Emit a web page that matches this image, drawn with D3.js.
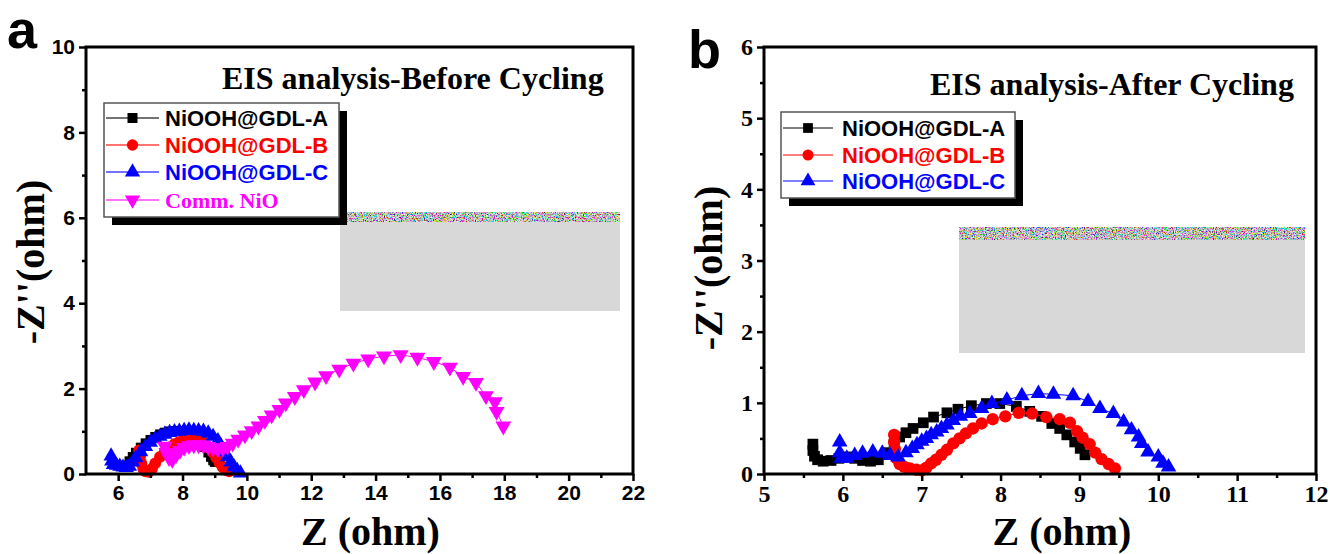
<!DOCTYPE html>
<meta charset="utf-8">
<style>
  body { margin: 0; background: #fff; }
  text { fill: #000; }
</style>
<svg width="1330" height="554"></svg>
<script src="https://d3js.org/d3.v7.min.js"></script>
<script>

var svg = d3.select("svg");

// series names and colours
var names = ["NiOOH@GDL-A", "NiOOH@GDL-B", "NiOOH@GDL-C", "Comm. NiO"];
var colors = ["#000000", "#ff0000", "#0000ff", "#ff00ff"];

// panel a : before cycling, [Z', -Z'']
var beforeA = [[6.25,0.2],[6.35,0.3],[6.45,0.4],[6.55,0.5],[6.7,0.62],[6.85,0.72],[7.0,0.8],[7.15,0.87],[7.3,0.93],[7.45,0.97],[7.6,1.0],[7.75,1.01],[7.9,1.01],[8.05,1.0],[8.2,0.97],[8.35,0.92],[8.5,0.84],[8.6,0.75],[8.7,0.63],[8.8,0.5],[8.88,0.4],[8.95,0.32],[9.0,0.28]];
var beforeB = [[6.65,0.55],[6.68,0.4],[6.72,0.25],[6.78,0.12],[6.85,0.06],[6.95,0.05],[7.05,0.12],[7.15,0.25],[7.3,0.4],[7.45,0.52],[7.6,0.62],[7.75,0.7],[7.9,0.75],[8.05,0.78],[8.2,0.8],[8.35,0.8],[8.5,0.78],[8.65,0.72],[8.8,0.62],[8.95,0.5],[9.05,0.38],[9.15,0.26],[9.25,0.16],[9.35,0.09],[9.45,0.06]];
var beforeC = [[5.78,0.42],[5.8,0.3],[5.85,0.22],[5.95,0.2],[6.05,0.18],[6.15,0.16],[6.25,0.15],[6.35,0.18],[6.45,0.28],[6.55,0.38],[6.7,0.52],[6.85,0.64],[7.0,0.74],[7.15,0.82],[7.3,0.88],[7.45,0.93],[7.6,0.97],[7.75,0.99],[7.9,1.0],[8.05,1.02],[8.2,1.03],[8.35,1.02],[8.5,1.01],[8.65,1.0],[8.8,0.96],[8.95,0.88],[9.1,0.78],[9.2,0.65],[9.3,0.52],[9.4,0.4],[9.5,0.28],[9.6,0.17],[9.7,0.08],[9.8,0.02]];
var beforeNiO = [[7.45,0.65],[7.5,0.5],[7.58,0.38],[7.68,0.34],[7.8,0.45],[7.92,0.55],[8.05,0.62],[8.2,0.66],[8.35,0.68],[8.5,0.68],[8.65,0.67],[8.8,0.64],[8.95,0.61],[9.1,0.59],[9.25,0.6],[9.4,0.64],[9.56,0.72],[9.73,0.81],[9.94,0.91],[10.15,1.01],[10.36,1.12],[10.56,1.25],[10.77,1.38],[11.01,1.51],[11.21,1.66],[11.49,1.81],[11.77,1.97],[12.12,2.15],[12.46,2.3],[12.87,2.45],[13.31,2.59],[13.77,2.69],[14.26,2.76],[14.78,2.79],[15.3,2.73],[15.81,2.63],[16.31,2.5],[16.72,2.28],[17.12,2.14],[17.43,1.83],[17.71,1.69],[17.76,1.46],[17.97,1.12]];

// panel b : after cycling
var afterA = [[5.62,0.42],[5.62,0.33],[5.64,0.25],[5.68,0.2],[5.75,0.18],[5.85,0.19],[5.95,0.22],[6.05,0.24],[6.15,0.22],[6.25,0.19],[6.35,0.18],[6.45,0.2],[6.55,0.3],[6.65,0.42],[6.72,0.52],[6.8,0.58],[6.89,0.64],[7.02,0.72],[7.15,0.8],[7.32,0.86],[7.46,0.91],[7.63,0.96],[7.82,0.99],[7.99,0.99],[8.2,0.95],[8.37,0.88],[8.52,0.81],[8.65,0.71],[8.75,0.64],[8.84,0.55],[8.94,0.45],[9.01,0.36],[9.07,0.27]];
var afterB = [[6.65,0.55],[6.65,0.45],[6.66,0.35],[6.68,0.22],[6.72,0.14],[6.78,0.1],[6.85,0.08],[6.93,0.06],[7.0,0.05],[7.06,0.09],[7.12,0.15],[7.18,0.2],[7.25,0.27],[7.32,0.34],[7.4,0.43],[7.48,0.5],[7.56,0.57],[7.65,0.64],[7.76,0.71],[7.9,0.77],[8.06,0.81],[8.23,0.86],[8.4,0.85],[8.58,0.8],[8.75,0.77],[8.88,0.72],[8.97,0.6],[9.04,0.51],[9.13,0.42],[9.2,0.3],[9.28,0.21],[9.37,0.14],[9.45,0.08]];
var afterC = [[5.96,0.45],[5.96,0.3],[5.98,0.22],[6.05,0.22],[6.15,0.26],[6.25,0.29],[6.38,0.31],[6.5,0.29],[6.6,0.26],[6.7,0.24],[6.8,0.3],[6.88,0.36],[6.94,0.41],[7.0,0.46],[7.06,0.5],[7.12,0.55],[7.19,0.59],[7.25,0.64],[7.32,0.69],[7.4,0.75],[7.49,0.81],[7.61,0.85],[7.76,0.92],[7.89,0.99],[8.08,1.04],[8.27,1.1],[8.48,1.13],[8.67,1.12],[8.92,1.1],[9.11,1.02],[9.26,0.92],[9.43,0.85],[9.56,0.73],[9.66,0.62],[9.75,0.52],[9.79,0.43],[9.87,0.31],[10.0,0.24],[10.06,0.15],[10.13,0.1]];

// tick values
var xTicksA = [6, 8, 10, 12, 14, 16, 18, 20, 22];
var yTicksA = [0, 2, 4, 6, 8, 10];
var xTicksB = [5, 6, 7, 8, 9, 10, 11, 12];
var yTicksB = [0, 1, 2, 3, 4, 5, 6];

var serif = "'Liberation Serif', 'Times New Roman', serif",
    sans = "'Liberation Sans', Arial, sans-serif";

// noise filter for the smeared strip on top of the grey blocks
var defs = svg.append("defs");
var noise = defs.append("filter").attr("id", "noise")
    .attr("x", 0).attr("y", 0).attr("width", 1).attr("height", 1);
noise.append("feTurbulence").attr("type", "fractalNoise")
    .attr("baseFrequency", "0.9 0.7").attr("numOctaves", 2).attr("seed", 4);
noise.append("feColorMatrix").attr("type", "matrix")
    .attr("values", "3 0 0 0 -1  0 3 0 0 -1  0 0 3 0 -1  0 0 0 0 1");

function symbolFor(i, size) {
  var types = [d3.symbolSquare, d3.symbolCircle, d3.symbolTriangle, d3.symbolTriangle];
  return d3.symbol().type(types[i]).size(size);
}

function panel(p) {
  var x = d3.scaleLinear().domain(p.xDomain).range([p.left, p.right]),
      y = d3.scaleLinear().domain(p.yDomain).range([p.bottom, p.top]);
  var g = svg.append("g");
  var fmt = d3.format("d");

  // grey block with smeared strip
  g.append("rect").attr("x", p.block[0]).attr("y", p.block[1])
      .attr("width", p.block[2] - p.block[0]).attr("height", p.block[3] - p.block[1])
      .attr("fill", "#d8d8d8");
  g.append("rect").attr("x", p.block[0]).attr("y", p.block[1])
      .attr("width", p.block[2] - p.block[0]).attr("height", p.strip)
      .attr("fill", "#888").attr("filter", "url(#noise)").attr("opacity", 0.85);

  // series
  p.series.forEach(function(s, i) {
    var line = d3.line().x(function(d) { return x(d[0]); }).y(function(d) { return y(d[1]); });
    g.append("path").datum(s).attr("d", line)
        .attr("fill", "none").attr("stroke", colors[i]).attr("stroke-width", 1);
    var sym = symbolFor(i, p.sizes[i]);
    g.selectAll(null).data(s).enter().append("path")
        .attr("d", sym)
        .attr("transform", function(d) {
          return "translate(" + x(d[0]) + "," + y(d[1]) + ")" + (i == 3 ? " rotate(180)" : "");
        })
        .attr("fill", colors[i]);
  });

  // axes
  g.append("g").attr("transform", "translate(0," + p.bottom + ")")
      .call(d3.axisBottom(x).tickValues(p.xTicks).tickFormat(fmt).tickSize(7).tickSizeOuter(0).tickPadding(4));
  g.append("g").attr("transform", "translate(0," + p.bottom + ")")
      .call(d3.axisBottom(x).tickValues(p.xMinor).tickSize(4).tickSizeOuter(0).tickFormat(""));
  g.append("g").attr("transform", "translate(" + p.left + ",0)")
      .call(d3.axisLeft(y).tickValues(p.yTicks).tickFormat(fmt).tickSize(7).tickSizeOuter(0).tickPadding(4));
  g.append("g").attr("transform", "translate(" + p.left + ",0)")
      .call(d3.axisLeft(y).tickValues(p.yMinor).tickSize(4).tickSizeOuter(0).tickFormat(""));
  g.selectAll(".domain").remove();
  g.selectAll(".tick line").attr("stroke", "#000").attr("stroke-width", 2.5);
  g.selectAll(".tick text").attr("font-family", p.tickFont).attr("font-weight", "bold")
      .attr("font-size", p.tickSize).attr("fill", "#000");

  g.append("rect").attr("x", p.left).attr("y", p.top)
      .attr("width", p.right - p.left).attr("height", p.bottom - p.top)
      .attr("fill", "none").attr("stroke", "#000").attr("stroke-width", 3);

  // titles
  g.append("text").attr("x", p.titleX).attr("y", p.titleY)
      .attr("font-family", serif).attr("font-weight", "bold").attr("font-size", 32)
      .text(p.title);
  g.append("text").attr("x", (p.left + p.right) / 2 + p.xLabelShift).attr("y", 545)
      .attr("text-anchor", "middle").attr("font-family", serif).attr("font-weight", "bold")
      .attr("font-size", 40).text("Z (ohm)");
  g.append("text").attr("transform", "translate(" + p.yLabelX + "," + p.yLabelY + ") rotate(-90)")
      .attr("text-anchor", "middle").attr("font-family", serif).attr("font-weight", "bold")
      .attr("font-size", 40).text("-Z''(ohm)");
  g.append("text").attr("x", p.letter[0]).attr("y", p.letter[1])
      .attr("font-family", sans).attr("font-weight", "bold").attr("font-size", 54)
      .text(p.letterText);

  // legend
  var L = p.legend;
  g.append("rect").attr("x", L.x0 + 8).attr("y", L.y0 + 8)
      .attr("width", L.x1 - L.x0).attr("height", L.y1 - L.y0).attr("fill", "#000");
  g.append("rect").attr("x", L.x0).attr("y", L.y0)
      .attr("width", L.x1 - L.x0).attr("height", L.y1 - L.y0)
      .attr("fill", "#fff").attr("stroke", "#555").attr("stroke-width", 1.5);
  p.series.forEach(function(s, i) {
    var cy = L.rows[i];
    g.append("line").attr("x1", L.lx0).attr("x2", L.lx1).attr("y1", cy).attr("y2", cy)
        .attr("stroke", colors[i]).attr("stroke-width", L.lineWidth).attr("stroke-opacity", L.lineOpacity);
    g.append("path").attr("d", symbolFor(i, L.size)())
        .attr("transform", "translate(" + (L.lx0 + L.lx1) / 2 + "," + cy + ")" + (i == 3 ? " rotate(180)" : ""))
        .attr("fill", colors[i]);
    g.append("text").attr("x", L.tx).attr("y", cy).attr("dy", "0.36em")
        .attr("font-family", i == 3 ? serif : sans).attr("font-weight", "bold")
        .attr("font-size", 22).style("fill", colors[i]).text(names[i]);
  });
}

panel({
  xDomain: [5, 22], yDomain: [0, 10],
  left: 86, right: 633, top: 47, bottom: 474,
  xTicks: xTicksA, yTicks: yTicksA,
  xMinor: [7, 9, 11, 13, 15, 17, 19, 21], yMinor: [1, 3, 5, 7, 9],
  tickFont: sans, tickSize: 21,
  series: [beforeA, beforeB, beforeC, beforeNiO],
  sizes: [95, 110, 100, 110],
  block: [340, 212, 620, 311], strip: 10,
  title: "EIS analysis-Before Cycling", titleX: 222, titleY: 89,
  xLabelShift: 11, yLabelX: 44, yLabelY: 262,
  letter: [7, 48], letterText: "a",
  legend: {x0: 104, y0: 103, x1: 339, y1: 217, rows: [118, 145, 172, 200],
           lx0: 106, lx1: 159, tx: 165, size: 100, lineWidth: 2, lineOpacity: 0.55}
});

panel({
  xDomain: [5, 12], yDomain: [0, 6],
  left: 764, right: 1316, top: 47, bottom: 474,
  xTicks: xTicksB, yTicks: yTicksB,
  xMinor: [5.5, 6.5, 7.5, 8.5, 9.5, 10.5, 11.5], yMinor: [0.5, 1.5, 2.5, 3.5, 4.5, 5.5],
  tickFont: serif, tickSize: 24,
  series: [afterA, afterB, afterC],
  sizes: [115, 120, 105],
  block: [959, 227, 1305, 353], strip: 13,
  title: "EIS analysis-After Cycling", titleX: 930, titleY: 95,
  xLabelShift: 22, yLabelX: 722, yLabelY: 268,
  letter: [688, 68], letterText: "b",
  legend: {x0: 781, y0: 112, x1: 1015, y1: 198, rows: [128, 155, 181],
           lx0: 783, lx1: 833, tx: 842, size: 95, lineWidth: 1, lineOpacity: 1}
});

</script>
